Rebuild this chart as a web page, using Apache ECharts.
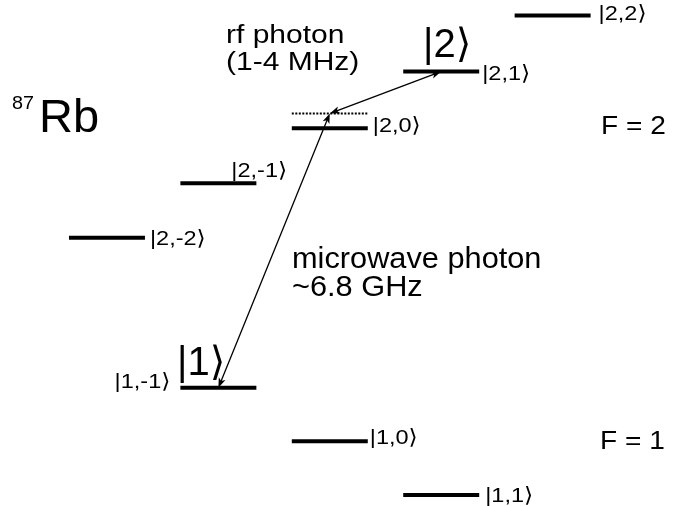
<!DOCTYPE html>
<html>
<head>
<meta charset="utf-8">
<script src="https://cdn.jsdelivr.net/npm/echarts@6/dist/echarts.min.js"></script>
<style>
  html, body { margin: 0; padding: 0; background: #fff; }
  #chart { width: 689px; height: 506px; }
</style>
</head>
<body>
<div id="chart"></div>
<script>
// ---- data ----
const levelLabels = ['|2,-2⟩', '|2,-1⟩', '|2,0⟩', '|2,1⟩', '|2,2⟩', '|1,-1⟩', '|1,0⟩', '|1,1⟩'];
const levelM      = [-2, -1, 0, 1, 2, -1, 0, 1];
const levelE      = [5.00, 5.99, 6.99, 8.02, 9.04, 2.27, 1.30, 0.32];   // arbitrary energy units
const virtualM    = [0];
const virtualE    = [7.26];
// transitions: from virtual level to level index
const arrowFromM  = [0, 0];
const arrowFromE  = [7.26, 7.26];
const arrowToIdx  = [5, 3];
const annotationTexts = ['87', 'Rb', 'rf photon', '(1-4 MHz)', '|2⟩', '|1⟩',
                         'microwave photon', '~6.8 GHz', 'F = 2', 'F = 1'];

// ---- styling / layout ----
const FONT = "'Liberation Sans', Arial, 'DejaVu Sans', sans-serif";
const HALF = 0.341;
// per-level label placement (pixels)
const labelPlace = [
  { side: 'right', gap: 5, dy: 1 },     // |2,-2>
  { side: 'above', dx: -25, dy: -12 },  // |2,-1>
  { side: 'right', gap: 5, dy: -2 },    // |2,0>
  { side: 'right', gap: 3, dy: 3 },     // |2,1>
  { side: 'right', gap: 8, dy: -1 },    // |2,2>
  { side: 'left',  gap: 10, dy: -6 },   // |1,-1>
  { side: 'right', gap: 2, dy: -3 },    // |1,0>
  { side: 'right', gap: 6, dy: 1 }      // |1,1>
];

const levelData = levelM.map((m, i) => [m, levelE[i]]);
const virtualData = virtualM.map((m, i) => [m, virtualE[i]]);
const arrowData = arrowFromM.map((m, i) => [m, arrowFromE[i], levelM[arrowToIdx[i]], levelE[arrowToIdx[i]]]);

function renderLevel(params, api) {
  const m = api.value(0), e = api.value(1), i = params.dataIndex;
  const a = api.coord([m - HALF, e]);
  const b = api.coord([m + HALF, e]);
  const p = labelPlace[i];
  let tx, align = 'left';
  if (p.side === 'left') { tx = a[0] - p.gap; align = 'right'; }
  else if (p.side === 'above') { tx = b[0] + p.dx; }
  else { tx = b[0] + p.gap; }
  return {
    type: 'group',
    children: [
      { type: 'line', shape: { x1: a[0], y1: a[1], x2: b[0], y2: b[1] },
        style: { stroke: '#000', lineWidth: 4 } },
      { type: 'text', x: tx, y: a[1] + p.dy, scaleX: 1.12,
        style: { text: levelLabels[i], fill: '#000', fontSize: 21, fontFamily: FONT,
                 align: align, textAlign: align, verticalAlign: 'middle', textVerticalAlign: 'middle' } }
    ]
  };
}

function renderVirtual(params, api) {
  const m = api.value(0), e = api.value(1);
  const a = api.coord([m - HALF, e]);
  const b = api.coord([m + HALF, e]);
  return { type: 'line', shape: { x1: a[0], y1: a[1], x2: b[0], y2: b[1] },
           style: { stroke: '#000', lineWidth: 2, lineDash: [2, 1.5] } };
}

function head(tip, ux, uy, L, W) {
  const bx = tip[0] - ux * L, by = tip[1] - uy * L;
  return { type: 'polygon',
           shape: { points: [tip, [bx - uy * W, by + ux * W], [tip[0] - ux * L * 0.75, tip[1] - uy * L * 0.75], [bx + uy * W, by - ux * W]] },
           style: { fill: '#000' } };
}

function renderArrow(params, api) {
  const p1 = api.coord([api.value(0), api.value(1)]);
  const p2 = api.coord([api.value(2), api.value(3)]);
  const dx = p2[0] - p1[0], dy = p2[1] - p1[1];
  const len = Math.sqrt(dx * dx + dy * dy);
  const ux = dx / len, uy = dy / len;
  const L = 10, W = 3.6;
  return {
    type: 'group',
    children: [
      { type: 'line', shape: { x1: p1[0] + ux * L * 0.6, y1: p1[1] + uy * L * 0.6,
                               x2: p2[0] - ux * L * 0.6, y2: p2[1] - uy * L * 0.6 },
        style: { stroke: '#000', lineWidth: 1.3 } },
      head(p2, ux, uy, L, W),
      head(p1, -ux, -uy, L, W)
    ]
  };
}

function txt(s, x, y, size, scaleX) {
  return { type: 'text', x: x, y: y, scaleX: scaleX || 1,
           style: { text: s, fill: '#000', fontSize: size, fontFamily: FONT,
                    align: 'left', textAlign: 'left', verticalAlign: 'middle', textVerticalAlign: 'middle' } };
}

const chart = echarts.init(document.getElementById('chart'), null, { renderer: 'canvas' });
chart.setOption({
  animation: false,
  backgroundColor: '#fff',
  grid: { left: 0, right: 0, top: 0, bottom: 0 },
  xAxis: { type: 'value', min: -2.960, max: 3.224, show: false },
  yAxis: { type: 'value', min: 0.122, max: 9.322, show: false },
  series: [
    { type: 'custom', name: 'levels', renderItem: renderLevel, data: levelData, silent: true },
    { type: 'custom', name: 'virtual', renderItem: renderVirtual, data: virtualData, silent: true },
    { type: 'custom', name: 'transitions', renderItem: renderArrow, data: arrowData, silent: true, z: 3 }
  ],
  graphic: { elements: [
    txt(annotationTexts[0], 12, 104, 18, 1.1),
    txt(annotationTexts[1], 39, 119, 47, 1),
    txt(annotationTexts[2], 226, 36, 25, 1.2),
    txt(annotationTexts[3], 226, 63, 25, 1.2),
    txt(annotationTexts[4], 423, 46, 40, 1),
    txt(annotationTexts[5], 177, 364, 40, 1),
    txt(annotationTexts[6], 292, 260, 29, 1.06),
    txt(annotationTexts[7], 292, 288, 29, 1.06),
    txt(annotationTexts[8], 601, 127, 26, 1.08),
    txt(annotationTexts[9], 600, 442, 26, 1.08)
  ] }
});
</script>
</body>
</html>
